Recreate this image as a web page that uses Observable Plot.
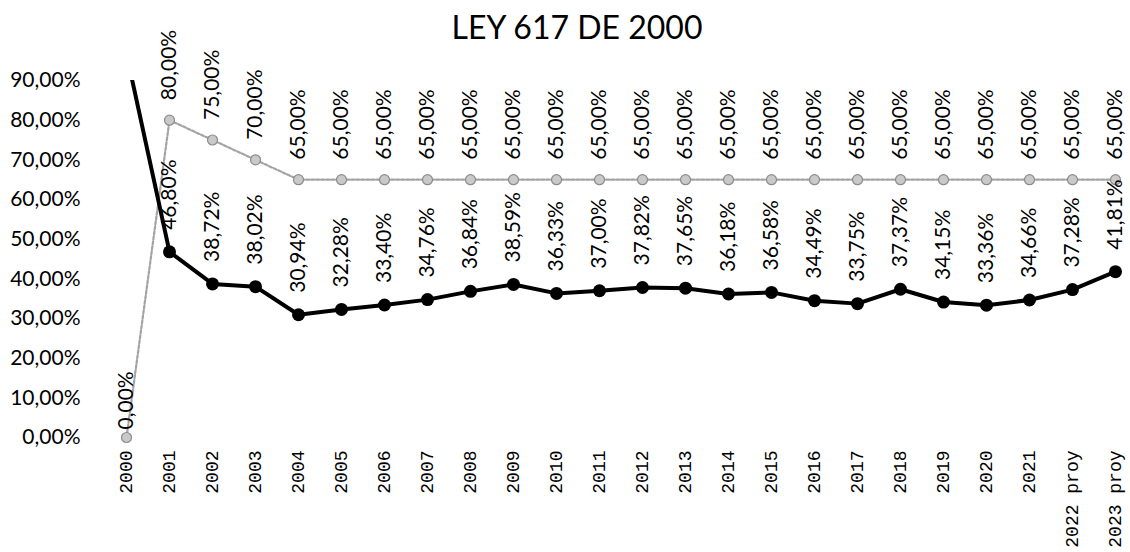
<!DOCTYPE html>
<html>
<head>
<meta charset="utf-8">
<script src="https://cdn.jsdelivr.net/npm/d3@7"></script>
<script src="https://cdn.jsdelivr.net/npm/@observablehq/plot@0.6"></script>
<style>
  html, body { margin: 0; padding: 0; background: #fff; }
  #title { height: 50px; width: 1130px; position: relative; }
  #title span { position: absolute; left: 24px; right: 0; top: 11px; text-align: center;
    font-family: Lato, "Open Sans", sans-serif; font-size: 32px; line-height: 1; color: #000; }
  #chart { position: relative; z-index: 1; }
</style>
</head>
<body>
<div id="title"><span>LEY 617 DE 2000</span></div>
<div id="chart"></div>
<script>
const categories = ["2000","2001","2002","2003","2004","2005","2006","2007","2008","2009","2010",
  "2011","2012","2013","2014","2015","2016","2017","2018","2019","2020","2021","2022 proy","2023 proy"];
const ejecucion = [0.967, 0.4680, 0.3872, 0.3802, 0.3094, 0.3228, 0.3340, 0.3476, 0.3684, 0.3859, 0.3633,
  0.3700, 0.3782, 0.3765, 0.3618, 0.3658, 0.3449, 0.3375, 0.3737, 0.3415, 0.3336, 0.3466, 0.3728, 0.4181];
const limite = [0, 0.80, 0.75, 0.70, 0.65, 0.65, 0.65, 0.65, 0.65, 0.65, 0.65,
  0.65, 0.65, 0.65, 0.65, 0.65, 0.65, 0.65, 0.65, 0.65, 0.65, 0.65, 0.65, 0.65];
const yTicks = [0, 0.1, 0.2, 0.3, 0.4, 0.5, 0.6, 0.7, 0.8, 0.9];

const fmt = v => (v * 100).toFixed(2).replace(".", ",") + "%";
const data = categories.map((c, i) => ({cat: c, eje: ejecucion[i], lim: limite[i]}));
const yMax = 0.9;

const labelFont = {fontFamily: "Lato, 'Open Sans', sans-serif", fontSize: 21, fill: "#000"};

const chart = Plot.plot({
  width: 1130,
  height: 502,
  marginTop: 30,
  marginBottom: 115,
  marginLeft: 126,
  marginRight: 15,
  style: {fontFamily: "Lato, 'Open Sans', sans-serif", fontSize: "21px", color: "#000",
    background: "transparent", overflow: "visible"},
  x: {type: "point", domain: categories, padding: 0},
  y: {domain: [0, yMax]},
  marks: [
    Plot.axisY({ticks: yTicks, tickFormat: fmt, tickSize: 0, tickPadding: 46, label: null,
      fontFamily: "Lato, 'Open Sans', sans-serif", fontSize: 21}),
    Plot.axisX({tickRotate: -90, tickSize: 0, tickPadding: 13, label: null,
      fontFamily: "'Liberation Mono', monospace", fontSize: 18}),
    Plot.line(data, {x: "cat", y: "lim", stroke: "#a3a3a3", strokeWidth: 2.2, strokeDasharray: "3,2"}),
    Plot.dot(data, {x: "cat", y: "lim", r: 5, fill: "#c9c9c9", stroke: "#8c8c8c", strokeWidth: 1.2}),
    Plot.line(data, {x: "cat", y: "eje", stroke: "#000", strokeWidth: 4, clip: true}),
    Plot.dot(data.filter(d => d.eje <= yMax), {x: "cat", y: "eje", r: 6.5, fill: "#000"}),
    Plot.text(data.filter(d => d.lim > 0), {x: "cat", y: "lim", text: d => fmt(d.lim), rotate: -90,
      textAnchor: "start", dy: -20, ...labelFont}),
    Plot.text(data.filter(d => d.lim === 0), {x: "cat", y: "lim", text: d => fmt(d.lim), rotate: -90,
      textAnchor: "start", dy: -8, ...labelFont}),
    Plot.text(data.filter(d => d.eje <= yMax), {x: "cat", y: "eje", text: d => fmt(d.eje), rotate: -90,
      textAnchor: "start", dy: -22, ...labelFont})
  ]
});
document.getElementById("chart").appendChild(chart);
</script>
</body>
</html>
